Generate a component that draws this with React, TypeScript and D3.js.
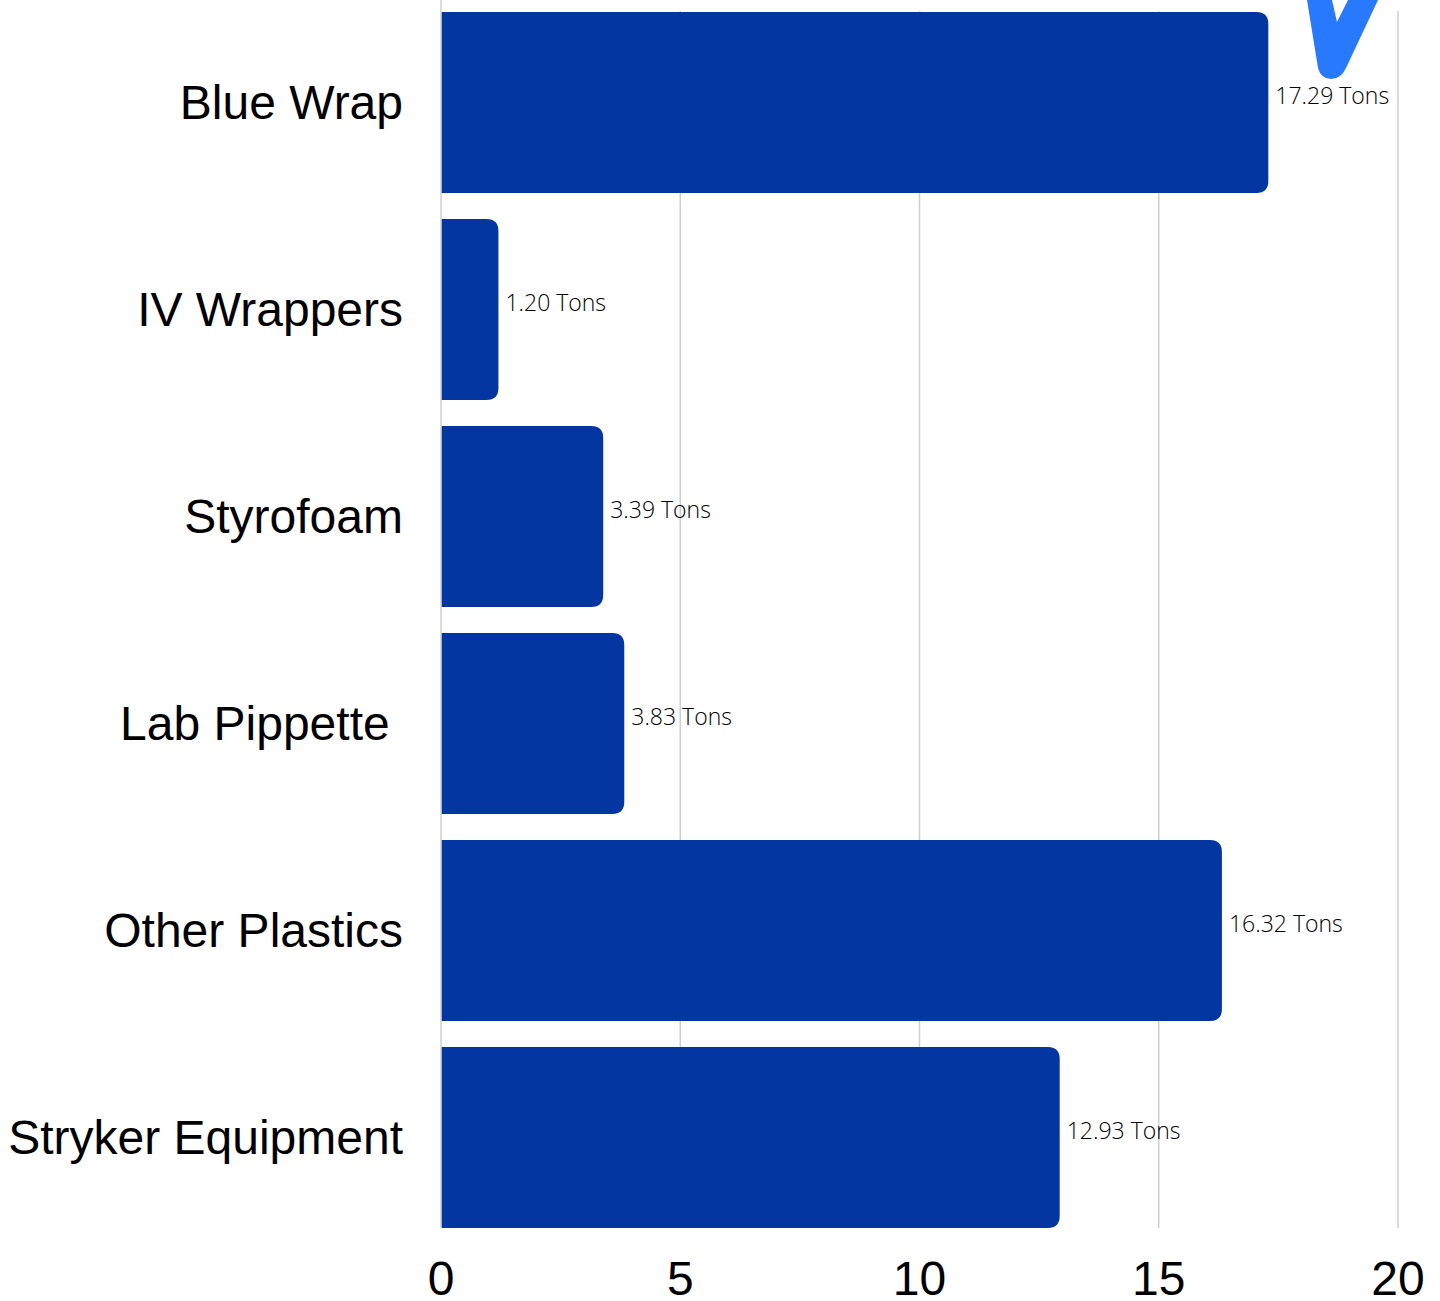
import React, { useEffect } from 'react';
import * as d3 from 'd3';

const WIDTH = 1440;
const HEIGHT = 1301;

// data
const categories = ['Blue Wrap', 'IV Wrappers', 'Styrofoam', 'Lab Pippette\u00a0', 'Other Plastics', 'Stryker Equipment'];
const tons = [17.29, 1.2, 3.39, 3.83, 16.32, 12.93];
const xTicks = [0, 5, 10, 15, 20];

const BAR_COLOR = '#0336a0';
const GRID_COLOR = '#cfcfcf';
const RADIUS = 12;

const margin = { left: 441, right: 42, top: 12, bottom: 73 };

// bar with only the right-hand corners rounded
const barPath = (x0: number, x1: number, y0: number, h: number, r: number) => {
  const rr = Math.min(r, (x1 - x0) / 2, h / 2);
  return `M${x0},${y0}H${x1 - rr}Q${x1},${y0} ${x1},${y0 + rr}V${y0 + h - rr}Q${x1},${y0 + h} ${x1 - rr},${y0 + h}H${x0}Z`;
};

const App: React.FC = () => {
  useEffect(() => {
    document.body.style.margin = '0';
  }, []);

  const x = d3.scaleLinear().domain([0, 20]).range([margin.left, WIDTH - margin.right]);
  const y = d3
    .scaleBand<string>()
    .domain(categories)
    .range([margin.top, HEIGHT - margin.bottom])
    .paddingInner(26 / 207)
    .paddingOuter(0);

  const gridTop = 11;
  const gridBottom = HEIGHT - margin.bottom;

  return (
    <svg width={WIDTH} height={HEIGHT} style={{ display: 'block', background: '#fff' }}>
      {/* gridlines */}
      <g>
        {xTicks.map((t) => (
          <line
            key={t}
            x1={x(t)}
            x2={x(t)}
            y1={t === 0 ? 0 : gridTop}
            y2={gridBottom}
            stroke={GRID_COLOR}
            strokeWidth={1.5}
          />
        ))}
      </g>

      {/* bars */}
      <g>
        {categories.map((c, i) => (
          <path
            key={c}
            d={barPath(x(0) + 0.75, x(tons[i]), y(c)!, y.bandwidth(), RADIUS)}
            fill={BAR_COLOR}
          />
        ))}
      </g>

      {/* value labels */}
      <g fontFamily="'Open Sans', sans-serif" fontWeight={300} fontSize={23} fill="#000">
        {categories.map((c, i) => (
          <text
            key={c}
            x={x(tons[i]) + 7}
            y={y(c)! + y.bandwidth() / 2 - 7}
            dy="0.35em"
          >
            {`${tons[i].toFixed(2)} Tons`}
          </text>
        ))}
      </g>

      {/* category labels */}
      <g fontFamily="'Liberation Sans', Arial, sans-serif" fontSize={48} fill="#000" textAnchor="end">
        {categories.map((c) => (
          <text key={c} x={403} y={y(c)! + y.bandwidth() / 2} dy="0.35em">
            {c}
          </text>
        ))}
      </g>

      {/* x axis tick labels */}
      <g fontFamily="'Liberation Sans', Arial, sans-serif" fontSize={48} fill="#000" textAnchor="middle">
        {xTicks.map((t) => (
          <text key={t} x={x(t)} y={1295}>
            {t}
          </text>
        ))}
      </g>

      {/* partial logo mark at the top right */}
      <path
        d="M1307,0 L1318,68 Q1321,79 1331,79 Q1341,79 1346,68 L1378,0 L1348,0 L1337,22 L1332,0 Z"
        fill="#2979ff"
      />
    </svg>
  );
};

export default App;
